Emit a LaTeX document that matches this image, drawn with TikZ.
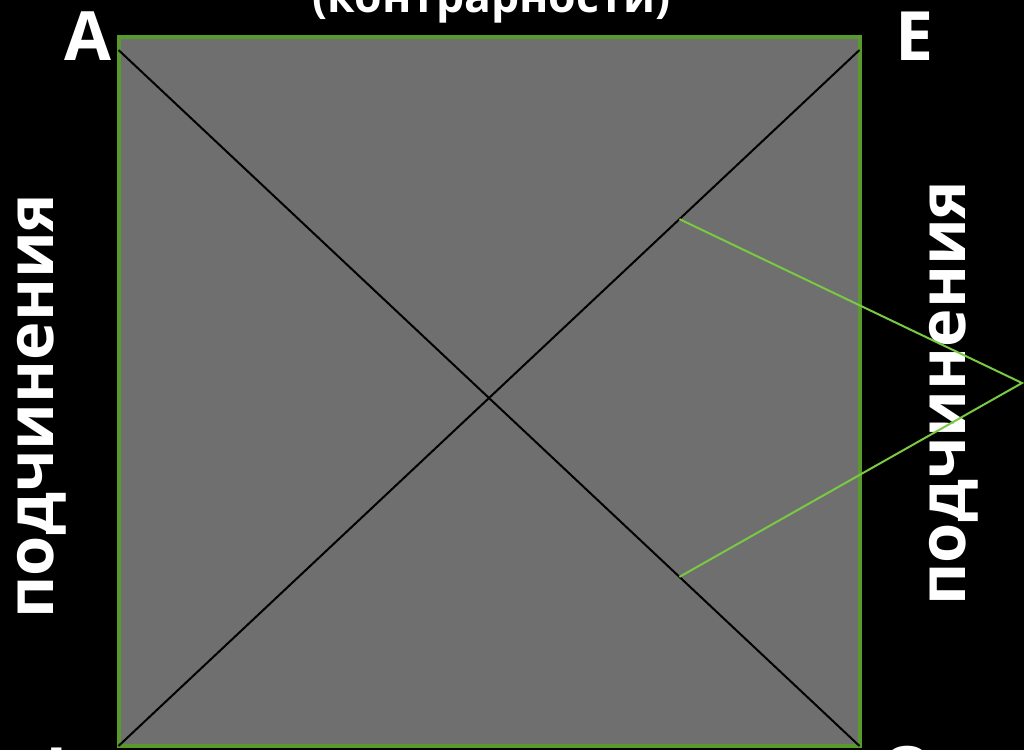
\documentclass[tikz,border=0pt]{standalone}
\usepackage{fontspec}
\setmainfont{Open Sans}
\usetikzlibrary{calc}

\definecolor{squaregray}{HTML}{6F6F6F}
\definecolor{framegreen}{HTML}{5A9A2C}
\definecolor{linkgreen}{HTML}{7AC943}

\begin{document}
\begin{tikzpicture}[
    x=1pt, y=-1pt,
    label/.style={white, font=\fontsize{68}{80}\selectfont\bfseries, inner sep=0pt, anchor=base},
    side/.style={label, font=\fontsize{65}{78}\selectfont\bfseries, rotate=90},
    diag/.style={black, line width=2pt},
    link/.style={linkgreen, line width=2pt}
]
\fill[black] (0,0) rectangle (1024,750);
\useasboundingbox (0,0) rectangle (1024,750);

% corners of the square
\coordinate (a) at (118.5,36.5);
\coordinate (e) at (859.5,36.5);
\coordinate (i) at (118.5,746);
\coordinate (o) at (859.5,746);
\filldraw[fill=squaregray, draw=framegreen, line width=4pt] (a) rectangle (o);

% diagonals
\coordinate (ad) at (118.5,50);
\coordinate (ed) at (859.5,50);
\draw[diag] (ad) -- (o);
\draw[diag] (i) -- (ed);

% labels
\node[label] (lA) at (88,60) {A};
\node[label] (lE) at (915,60) {E};
\node[label] (lI) at (57,796) {I};
\node[label] (lO) at (908,795) {O};
\node[label, font=\fontsize{44.5}{54}\selectfont\bfseries] (top) at (492,12) {(контрарности)};
\node[side] (left) at (53,406) {подчинения};
\node[side] (right) at (965,393) {подчинения};

% link to the right
\coordinate (p) at ($(i)!0.757!(ed)$);
\coordinate (q) at ($(ad)!0.757!(o)$);
\coordinate (tip) at (1022,383);
\draw[link] (p) -- (tip) -- (q);
\end{tikzpicture}
\end{document}
